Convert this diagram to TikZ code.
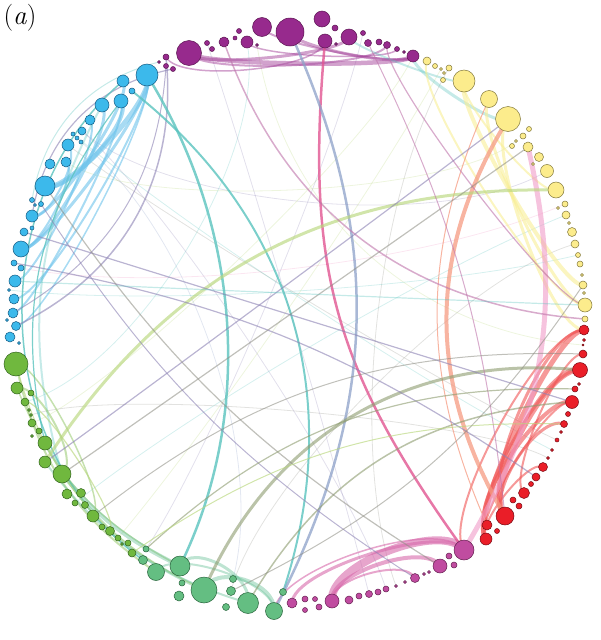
\documentclass[tikz,border=0pt]{standalone}
\usetikzlibrary{calc}
\pgfdeclarelayer{edges}
\pgfsetlayers{edges,main}
\definecolor{cPurF}{RGB}{151,42,141}\definecolor{cPurD}{RGB}{90,20,80}
\definecolor{cYelF}{RGB}{252,236,140}\definecolor{cYelD}{RGB}{130,120,60}
\definecolor{cRedF}{RGB}{234,30,40}\definecolor{cRedD}{RGB}{120,10,20}
\definecolor{cMagF}{RGB}{192,76,160}\definecolor{cMagD}{RGB}{100,30,80}
\definecolor{cTgF}{RGB}{100,190,130}\definecolor{cTgD}{RGB}{40,100,60}
\definecolor{cGrF}{RGB}{112,184,62}\definecolor{cGrD}{RGB}{50,100,30}
\definecolor{cBlF}{RGB}{60,185,235}\definecolor{cBlD}{RGB}{20,90,130}
\definecolor{eBlue}{RGB}{110,195,235}
\definecolor{eTeal}{RGB}{90,195,190}
\definecolor{ePurG}{RGB}{140,130,180}
\definecolor{eGrey}{RGB}{140,140,130}
\definecolor{eOlive}{RGB}{140,155,110}
\definecolor{eYG}{RGB}{185,215,125}
\definecolor{ePink}{RGB}{225,85,145}
\definecolor{eLPink}{RGB}{240,155,200}
\definecolor{eSal}{RGB}{245,155,130}
\definecolor{eRed}{RGB}{240,85,85}
\definecolor{eYel}{RGB}{248,238,150}
\definecolor{eSteel}{RGB}{140,160,200}
\definecolor{eMauve}{RGB}{190,115,170}
\definecolor{eMag}{RGB}{215,105,170}
\definecolor{ePur}{RGB}{165,70,155}
\definecolor{eGreen}{RGB}{140,195,95}
\definecolor{eTG}{RGB}{110,195,155}
\tikzset{
 nd/.style={circle,inner sep=0pt,line width=0.5pt},
 pn/.style={nd,fill=cPurF,draw=cPurD},
 yn/.style={nd,fill=cYelF,draw=cYelD},
 rn/.style={nd,fill=cRedF,draw=cRedD},
 mn/.style={nd,fill=cMagF,draw=cMagD},
 tn/.style={nd,fill=cTgF,draw=cTgD},
 gn/.style={nd,fill=cGrF,draw=cGrD},
 bn/.style={nd,fill=cBlF,draw=cBlD},
 ee/.style={line cap=round},
 blueE/.style={ee,draw=eBlue,draw opacity=0.6},
 tealE/.style={ee,draw=eTeal,draw opacity=0.8},
 tealL/.style={ee,draw=eTeal,draw opacity=0.35},
 purG/.style={ee,draw=ePurG,draw opacity=0.6},
 greyE/.style={ee,draw=eGrey,draw opacity=0.55},
 oliveE/.style={ee,draw=eOlive,draw opacity=0.6},
 ygE/.style={ee,draw=eYG,draw opacity=0.65},
 pinkE/.style={ee,draw=ePink,draw opacity=0.8},
 lpinkE/.style={ee,draw=eLPink,draw opacity=0.6},
 salE/.style={ee,draw=eSal,draw opacity=0.75},
 redE/.style={ee,draw=eRed,draw opacity=0.6},
 yelE/.style={ee,draw=eYel,draw opacity=0.6},
 steelE/.style={ee,draw=eSteel,draw opacity=0.75},
 mauveE/.style={ee,draw=eMauve,draw opacity=0.6},
 magE/.style={ee,draw=eMag,draw opacity=0.6},
 purE/.style={ee,draw=ePur,draw opacity=0.5},
 greenE/.style={ee,draw=eGreen,draw opacity=0.5},
 tgE/.style={ee,draw=eTG,draw opacity=0.45},
 faint/.style={ee,draw opacity=0.25,line width=0.8pt},
}
\newcommand\ed[4][0.5]{\draw[#4] (#2.center) .. controls ($(#2.center)!#1!(O)$) and ($(#3.center)!#1!(O)$) .. (#3.center);}
\newcommand\eb[4]{\draw[#4] (#1.center) to[#3] (#2.center);}
\begin{document}
\begin{tikzpicture}[x=1pt,y=-1pt]
\useasboundingbox (0,0) rectangle (601,640);
\coordinate (O) at (300,322);
\node[anchor=center,inner sep=0pt] (lbl) at (20,18) {\fontsize{27}{30}\selectfont(\textit{a})};
% purple
\foreach \n/\x/\y/\r in {1/159/62/1.5,2/166/57/3,3/166/66/2.5,4/173/69/2.5,5/189/53/12.5,6/207/43/2.5,7/212/49/2.5,8/224/42/5,9/235/38/2,10/239/31/2.5,11/247/42/6,12/257/45/1.5,13/262/27/9.5,14/290/32/14,15/322/19/8,16/325/41/7,17/335/28/3,18/336/44/1.5,19/349/37/8,20/363/33/2.5,21/368/43/3.5,22/379/42/3,23/387/45/3.5,24/397/49/2.5,25/404/52/1.5,26/413/56/6}
 \node[pn,minimum size={2*\r*1pt}] (P\n) at (\x,\y) {};
% yellow
\foreach \n/\x/\y/\r in {1/427/61/4,2/435/66/2.5,3/441/69/1.5,4/444/73/1.5,5/449/68/3,6/443/80/2.5,7/464/81/11,8/489/99/8.5,9/508/119/12.5,10/529/129/2.5,11/523/136/3,12/516/141/1.5,13/512/146/2.5,14/528/147/5,15/539/157/4.5,16/533/164/1.5,17/547/171/6.5,18/556/190/8,19/565/204/3,20/558/208/1.5,21/566/215/4,22/569/223/1.5,23/572/232/4.5,24/575/244/4,25/578/255/2.5,26/580/264/3,27/582/275/1.5,28/583/285/4,29/584/293/1.5,30/585/305/7,31/585/319/3}
 \node[yn,minimum size={2*\r*1pt}] (Y\n) at (\x,\y) {};
% red
\foreach \n/\x/\y/\r in {1/584/330/5,2/584/340/1.5,3/583/345/1,4/583/354/4,5/580/370/7.5,6/579/384/1.5,7/575/389/3,8/572/402/6.5,9/568/414/2.5,10/564/424/3.5,11/561/432/1.5,12/557/440/2,13/552/450/1.5,14/548/458/1.5,15/543/467/4.5,16/536/477/4,17/531/484/2.5,18/524/493/5.5,19/519/506/3,20/513/500/3,21/505/516/9,22/497/531/2.5,23/487/525/5,24/486/539/6}
 \node[rn,minimum size={2*\r*1pt}] (R\n) at (\x,\y) {};
% magenta
\foreach \n/\x/\y/\r in {1/464/550/10,2/454/565/3,3/449/556/3,4/440/566/7,5/429/572/1.5,6/424/574/1.5,7/415/578/4.5,8/405/582/1.5,9/396/586/1.5,10/386/589/3,11/378/592/3,12/369/594/3.5,13/359/596/3,14/349/600/4,15/332/601/7,16/319/607/3,17/315/599/2.5,18/305/599/3,19/305/610/2.5,20/292/603/5}
 \node[mn,minimum size={2*\r*1pt}] (M\n) at (\x,\y) {};
% teal green
\foreach \n/\x/\y/\r in {1/283/592/3.5,2/274/611/8.5,3/248/603/10.5,4/226/607/3.5,5/231/591/4.5,6/233/579/3.5,7/204/590/13,8/179/596/5,9/182/583/3,10/180/566/10,11/156/572/8.5,12/143/560/4.5,13/146/549/3}
 \node[tn,minimum size={2*\r*1pt}] (T\n) at (\x,\y) {};
% green
\foreach \n/\x/\y/\r in {1/132/553/4,2/128/543/3,3/122/544/1.5,4/118/538/3,5/110/531/4.5,6/102/527/3,7/93/516/6,8/85/505/3.5,9/75/503/3,10/81/493/4.5,11/67/494/5,12/62/474/9,13/45/462/6,14/45/443/7,15/32/436/1.5,16/39/431/3,17/32/423/4,18/31/415/1.5,19/29/410/1.5,20/25/402/4,21/31/393/3,22/17/388/6,23/16/364/12}
 \node[gn,minimum size={2*\r*1pt}] (G\n) at (\x,\y) {};
% blue
\foreach \n/\x/\y/\r in {1/19/343/1.5,2/10/337/5,3/16/326/4.5,4/7/320/1.5,5/13/313/5,6/14/299/5,7/9/290/1.5,8/15/281/6,9/21/268/3,10/14/263/3,11/21/249/8,12/32/228/2,13/24/232/4,14/32/216/6,15/35/205/1.5,16/41/204/2.5,17/32/200/2.5,18/45/186/10,19/50/164/5,20/66/162/5,21/68/145/6,22/73/134/2,23/77/138/2,24/81/142/2,25/82/131/4,26/90/120/5,27/102/105/7,28/121/101/7,29/132/91/3,30/123/81/6,31/147/75/11}
 \node[bn,minimum size={2*\r*1pt}] (B\n) at (\x,\y) {};
\begin{pgfonlayer}{edges}
% faint background lines
\ed[0.4]{B25}{Y17}{faint,draw=ePurG}
\ed[0.4]{P11}{G20}{faint,draw=eTeal}
\ed[0.4]{Y24}{T5}{faint,draw=eGrey}
\ed[0.3]{P26}{G17}{faint,draw=eYG}
\ed[0.3]{B20}{Y12}{faint,draw=eYG}
\ed[0.4]{M10}{B25}{faint,draw=ePurG}
\ed[0.4]{R12}{B21}{faint,draw=eGrey}
\ed[0.5]{P6}{M12}{faint,draw=ePurG}
\ed[0.5]{Y21}{G9}{faint,draw=eTeal}
\ed[0.5]{B9}{Y19}{faint,draw=eLPink}
\ed[0.4]{P20}{T13}{faint,draw=ePurG}
\ed[0.5]{Y3}{G4}{faint,draw=eYG}
\ed[0.5]{B22}{R13}{faint,draw=eTeal}
\ed[0.6]{P12}{R3}{faint,draw=eYG}
\ed[0.5]{B24}{T6}{faint,draw=eSteel}
\ed[0.5]{Y5}{M9}{faint,draw=eGrey}
\ed[0.3]{G18}{R14}{faint,draw=eGrey}
\ed[0.5]{B7}{Y25}{faint,draw=eTeal}
% purple intra
\ed[0.045]{P5}{P26}{purE,line width=4.5}
\ed[0.06]{P5}{P19}{purE,line width=3}
\ed[0.05]{P13}{P26}{purE,line width=2}
\ed[0.05]{P14}{P26}{purE,line width=3}
\ed[0.08]{P5}{P23}{purE,line width=2}
\ed[0.1]{P2}{P16}{purE,line width=1.5}
\ed[0.05]{P11}{P24}{purE,line width=1.5}
\ed[0.05]{P26}{Y9}{tealL,line width=3}
\ed[0.03]{P19}{Y7}{tealL,line width=2}
% blue intra
\ed[0.08]{B31}{B18}{blueE,line width=5}
\ed[0.08]{B28}{B18}{blueE,line width=4}
\ed[0.08]{B31}{B11}{blueE,line width=3}
\ed[0.08]{B27}{B11}{blueE,line width=3}
\ed[0.07]{B30}{B14}{blueE,line width=3}
\ed[0.07]{B26}{B8}{blueE,line width=2}
\ed[0.1]{B31}{B6}{blueE,line width=2}
\ed[0.06]{B20}{B11}{blueE,line width=2}
\ed[0.07]{B28}{B5}{blueE,line width=2}
\ed[0.06]{B21}{B14}{blueE,line width=2}
\ed[0.1]{B31}{B3}{blueE,line width=1.5}
% rim lines left
\eb{B14}{P4}{bend left=35}{purG,line width=1.2}
\eb{B17}{P1}{bend left=33}{tealL,line width=1}
\eb{T12}{B30}{bend left=52}{tealE,line width=1.5}
\eb{G14}{B28}{bend left=25}{tealE,line width=1.2}
\eb{G12}{B27}{bend left=22}{tealL,line width=2}
\eb{P2}{B3}{bend left=35}{purG,line width=1.5}
\eb{P3}{B5}{bend left=28}{purG,line width=1}
% teal long
\ed[0.62]{B31}{T10}{tealE,line width=2.5}
\eb{B29}{T1}{bend left=35}{tealE,line width=2}
% green region
\eb{G23}{T11}{bend right=22}{greenE,line width=2}
\eb{G22}{T10}{bend right=20}{greenE,line width=1.5}
\eb{G14}{T7}{bend right=18}{tgE,line width=3}
\eb{G12}{T10}{bend right=12}{tgE,line width=4}
\eb{G23}{T7}{bend right=25}{ygE,line width=1.2}
\eb{G13}{T3}{bend right=18}{tgE,line width=2}
\ed[0.1]{T7}{T2}{tgE,line width=4}
\ed[0.1]{T10}{T3}{tgE,line width=3}
\ed[0.1]{T11}{T2}{tgE,line width=2}
\ed[0.08]{G23}{G7}{greenE,line width=1.5}
\ed[0.08]{G22}{G12}{greenE,line width=2}
\ed[0.06]{G20}{G5}{ygE,line width=1.2}
% magenta
\ed[0.13]{M1}{M15}{magE,line width=8}
\ed[0.1]{M4}{M15}{magE,line width=4}
\ed[0.12]{M1}{M20}{magE,line width=3}
\ed[0.08]{M7}{M15}{magE,line width=2}
\ed[0.15]{M1}{T2}{magE,line width=1.5}
% red
\ed[0.1]{R1}{R24}{redE,line width=5}
\ed[0.12]{R5}{R21}{redE,line width=6}
\ed[0.1]{R8}{R23}{redE,line width=4}
\ed[0.12]{R5}{R24}{redE,line width=3}
\ed[0.1]{R10}{R21}{redE,line width=3}
\ed[0.08]{R4}{R18}{redE,line width=2}
\ed[0.14]{R1}{R21}{redE,line width=3}
\ed[0.08]{R8}{R24}{redE,line width=2}
\ed[0.06]{R15}{R24}{redE,line width=2}
\ed[0.15]{R1}{M1}{redE,line width=2}
% yellow
\ed[0.08]{Y7}{Y28}{yelE,line width=4}
\ed[0.1]{Y8}{Y30}{yelE,line width=3}
\ed[0.12]{Y9}{R1}{yelE,line width=3}
\ed[0.06]{Y7}{Y18}{yelE,line width=2}
\ed[0.12]{Y1}{Y30}{yelE,line width=2}
% long cross edges
\ed[0.8]{P16}{M1}{pinkE,line width=2.5}
\eb{P14}{T2}{bend left=26}{steelE,line width=2.5}
\eb{Y9}{R21}{bend right=31}{salE,line width=4}
\eb{Y8}{R23}{bend right=24}{salE,line width=1}
\eb{Y14}{M1}{bend left=22}{lpinkE,line width=5}
\eb{Y18}{G13}{bend right=29}{ygE,line width=3}
\eb{R5}{T7}{bend right=36}{oliveE,line width=3}
\eb{R8}{T3}{bend right=28}{oliveE,line width=1.5}
\eb{P8}{Y31}{bend right=33}{mauveE,line width=1.5}
\eb{P21}{R21}{bend left=10}{mauveE,line width=1}
\ed[0.1]{P23}{Y30}{mauveE,line width=1.2}
\eb{B10}{R16}{bend left=12}{purG,line width=1.2}
\ed[0.05]{B13}{R8}{purG,line width=1.2}
\ed[0.05]{G12}{Y14}{greyE,line width=1.2}
\ed[0.05]{G13}{Y9}{purG,line width=1.2}
\eb{B18}{M4}{bend right=12}{greyE,line width=1.2}
\eb{B16}{M7}{bend right=12}{purG,line width=1}
\ed[0.03]{Y30}{B8}{tealL,line width=1.2}
\eb{R4}{G7}{bend right=20}{greyE,line width=1}
\eb{R7}{T13}{bend right=22}{oliveE,line width=1.2}
\eb{R10}{G1}{bend right=18}{ygE,line width=1}
\eb{T5}{Y28}{bend right=15}{greyE,line width=1}
\end{pgfonlayer}
\end{tikzpicture}
\end{document}
